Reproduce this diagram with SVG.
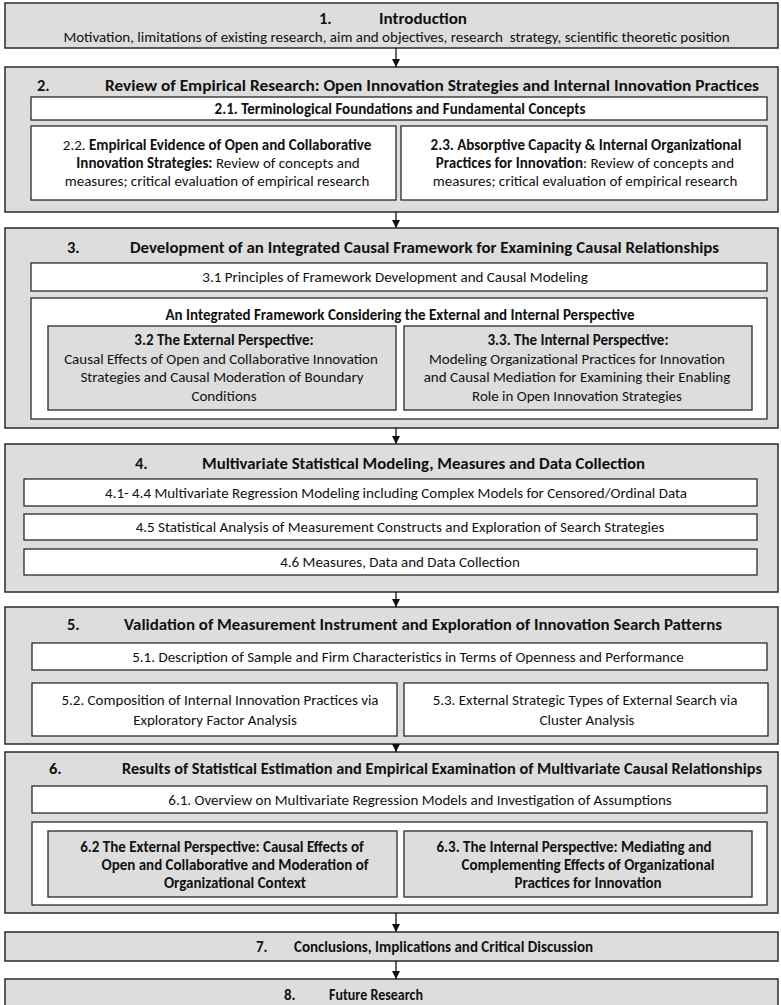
<svg xmlns="http://www.w3.org/2000/svg" width="781" height="1005" viewBox="0 0 781 1005">
  <defs>
    <marker id="head" viewBox="0 0 10 10" refX="10" refY="5" markerWidth="8" markerHeight="8" markerUnits="userSpaceOnUse" orient="auto">
      <path d="M0,0 L10,5 L0,10 z" fill="#111"/>
    </marker>
    <style>
      text { font-family: Carlito, "Liberation Sans Narrow", "Liberation Sans", Arial, sans-serif; fill: #111; }
      .h { font-size: 16.5px; font-weight: bold; }
      .hs { font-size: 15px; font-weight: bold; }
      .t { font-size: 15px; }
      .b { font-weight: bold; }
      .c { text-anchor: middle; }
      .outer { fill: #dddddd; stroke: #2a2a2a; stroke-width: 1.5; }
      .white { fill: #ffffff; stroke: #2a2a2a; stroke-width: 1.3; }
      .grey { fill: #dddddd; stroke: #2a2a2a; stroke-width: 1.3; }
      .link { stroke: #111; stroke-width: 1.3; fill: none; marker-end: url(#head); }
    </style>
  </defs>

  <!-- 1. Introduction -->
  <g id="sec1">
    <rect class="outer" x="5" y="3" width="773" height="45"/>
    <text class="h" x="319" y="24">1.</text>
    <text class="h" x="379" y="24" textLength="88" lengthAdjust="spacingAndGlyphs">Introduction</text>
    <text class="t c" x="396.5" y="41.5">Motivation, limitations of existing research, aim and objectives, research&#160; strategy, scientific theoretic position</text>
  </g>

  <!-- 2. Review of empirical research -->
  <g id="sec2">
    <rect class="outer" x="5" y="67" width="773" height="145"/>
    <text class="h" x="37" y="91">2.</text>
    <text class="h" x="105" y="91" textLength="654" lengthAdjust="spacingAndGlyphs">Review of Empirical Research: Open Innovation Strategies and Internal Innovation Practices</text>
  </g>
  <g id="sec2-1">
    <rect class="white" x="31" y="97" width="736" height="23"/>
    <text class="t b c" x="400" y="113.5">2.1. Terminological Foundations and Fundamental Concepts</text>
  </g>
  <g id="sec2-2">
    <rect class="white" x="31" y="126" width="365" height="74"/>
    <text class="t c" x="217" y="150">2.2. <tspan class="b">Empirical Evidence of Open and Collaborative</tspan></text>
    <text class="t c" x="218" y="168"><tspan class="b">Innovation Strategies:</tspan> Review of concepts and</text>
    <text class="t c" x="217" y="186">measures; critical evaluation of empirical research</text>
  </g>
  <g id="sec2-3">
    <rect class="white" x="401" y="126" width="366" height="74"/>
    <text class="t b c" x="586" y="150">2.3. Absorptive Capacity &amp; Internal Organizational</text>
    <text class="t c" x="585" y="168"><tspan class="b">Practices for Innovation</tspan>: Review of concepts and</text>
    <text class="t c" x="585" y="186">measures; critical evaluation of empirical research</text>
  </g>

  <!-- 3. Integrated causal framework -->
  <g id="sec3">
    <rect class="outer" x="5" y="228" width="773" height="200"/>
    <text class="h" x="67" y="253">3.</text>
    <text class="h" x="130" y="253" textLength="589" lengthAdjust="spacingAndGlyphs">Development of an Integrated Causal Framework for Examining Causal Relationships</text>
  </g>
  <g id="sec3-1">
    <rect class="white" x="31" y="263" width="736" height="28"/>
    <text class="t c" x="395" y="282">3.1 Principles of Framework Development and Causal Modeling</text>
  </g>
  <g id="sec3-frame">
    <rect class="white" x="31" y="298" width="736" height="121"/>
    <text class="t b c" x="400" y="320">An Integrated Framework Considering the External and Internal Perspective</text>
  </g>
  <g id="sec3-2">
    <rect class="grey" x="48" y="326" width="348" height="84"/>
    <text class="t b c" x="224" y="345">3.2 The External Perspective:</text>
    <text class="t c" x="221" y="363.5">Causal Effects of Open and Collaborative Innovation</text>
    <text class="t c" x="222" y="382">Strategies and Causal Moderation of Boundary</text>
    <text class="t c" x="224" y="400.5">Conditions</text>
  </g>
  <g id="sec3-3">
    <rect class="grey" x="404" y="326" width="348" height="84"/>
    <text class="t b c" x="578" y="345">3.3. The Internal Perspective:</text>
    <text class="t c" x="577" y="363.5">Modeling Organizational Practices for Innovation</text>
    <text class="t c" x="577" y="382">and Causal Mediation for Examining their Enabling</text>
    <text class="t c" x="577" y="400.5">Role in Open Innovation Strategies</text>
  </g>

  <!-- 4. Statistical modeling -->
  <g id="sec4">
    <rect class="outer" x="5" y="444" width="773" height="148"/>
    <text class="h" x="135" y="469">4.</text>
    <text class="h" x="202" y="469" textLength="443" lengthAdjust="spacingAndGlyphs">Multivariate Statistical Modeling, Measures and Data Collection</text>
  </g>
  <g id="sec4-1">
    <rect class="white" x="24" y="479" width="733" height="27"/>
    <text class="t c" x="396" y="497.5">4.1- 4.4 Multivariate Regression Modeling including Complex Models for Censored/Ordinal Data</text>
  </g>
  <g id="sec4-5">
    <rect class="white" x="24" y="514" width="733" height="26"/>
    <text class="t c" x="400" y="532">4.5 Statistical Analysis of Measurement Constructs and Exploration of Search Strategies</text>
  </g>
  <g id="sec4-6">
    <rect class="white" x="24" y="549" width="733" height="26"/>
    <text class="t c" x="400" y="567">4.6 Measures, Data and Data Collection</text>
  </g>

  <!-- 5. Validation -->
  <g id="sec5">
    <rect class="outer" x="5" y="607" width="773" height="137"/>
    <text class="h" x="67" y="630">5.</text>
    <text class="h" x="124" y="630" textLength="598" lengthAdjust="spacingAndGlyphs">Validation of Measurement Instrument and Exploration of Innovation Search Patterns</text>
  </g>
  <g id="sec5-1">
    <rect class="white" x="32" y="643" width="735" height="27"/>
    <text class="t c" x="408" y="661.5">5.1. Description of Sample and Firm Characteristics in Terms of Openness and Performance</text>
  </g>
  <g id="sec5-2">
    <rect class="white" x="32" y="683" width="365" height="53"/>
    <text class="t c" x="220" y="705">5.2. Composition of Internal Innovation Practices via</text>
    <text class="t c" x="215" y="725">Exploratory Factor Analysis</text>
  </g>
  <g id="sec5-3">
    <rect class="white" x="404" y="683" width="364" height="53"/>
    <text class="t c" x="585" y="705">5.3. External Strategic Types of External Search via</text>
    <text class="t c" x="587" y="725">Cluster Analysis</text>
  </g>

  <!-- 6. Results -->
  <g id="sec6">
    <rect class="outer" x="5" y="752" width="773" height="161"/>
    <text class="h" x="49" y="774">6.</text>
    <text class="h" x="122" y="774" textLength="640" lengthAdjust="spacingAndGlyphs">Results of Statistical Estimation and Empirical Examination of Multivariate Causal Relationships</text>
  </g>
  <g id="sec6-1">
    <rect class="white" x="32" y="786" width="735" height="27"/>
    <text class="t c" x="420" y="804.5">6.1. Overview on Multivariate Regression Models and Investigation of Assumptions</text>
  </g>
  <g id="sec6-frame">
    <rect class="white" x="32" y="822" width="735" height="83"/>
  </g>
  <g id="sec6-2">
    <rect class="grey" x="48" y="831" width="349" height="66"/>
    <text class="t b c" x="222" y="852">6.2 The External Perspective: Causal Effects of</text>
    <text class="t b c" x="235" y="870">Open and Collaborative and Moderation of</text>
    <text class="t b c" x="235" y="888">Organizational Context</text>
  </g>
  <g id="sec6-3">
    <rect class="grey" x="404" y="831" width="348" height="66"/>
    <text class="t b c" x="574" y="852">6.3. The Internal Perspective: Mediating and</text>
    <text class="t b c" x="588" y="870">Complementing Effects of Organizational</text>
    <text class="t b c" x="588" y="888">Practices for Innovation</text>
  </g>

  <!-- 7. Conclusions -->
  <g id="sec7">
    <rect class="outer" x="5" y="932" width="773" height="29"/>
    <text class="hs" x="256" y="952">7.</text>
    <text class="hs" x="294" y="952" textLength="299" lengthAdjust="spacingAndGlyphs">Conclusions, Implications and Critical Discussion</text>
  </g>

  <!-- 8. Future research -->
  <g id="sec8">
    <rect class="outer" x="5" y="979" width="773" height="30"/>
    <text class="hs" x="284" y="1000">8.</text>
    <text class="hs" x="329" y="1000" textLength="94" lengthAdjust="spacingAndGlyphs">Future Research</text>
  </g>

  <!-- connectors between chapters -->
  <g id="connectors">
    <line class="link" x1="396" y1="48" x2="396" y2="67"/>
    <line class="link" x1="396" y1="212" x2="396" y2="228"/>
    <line class="link" x1="396" y1="428" x2="396" y2="444"/>
    <line class="link" x1="396" y1="592" x2="396" y2="607"/>
    <line class="link" x1="396" y1="744" x2="396" y2="752"/>
    <line class="link" x1="396" y1="913" x2="396" y2="932"/>
    <line class="link" x1="396" y1="961" x2="396" y2="979"/>
  </g>
</svg>
